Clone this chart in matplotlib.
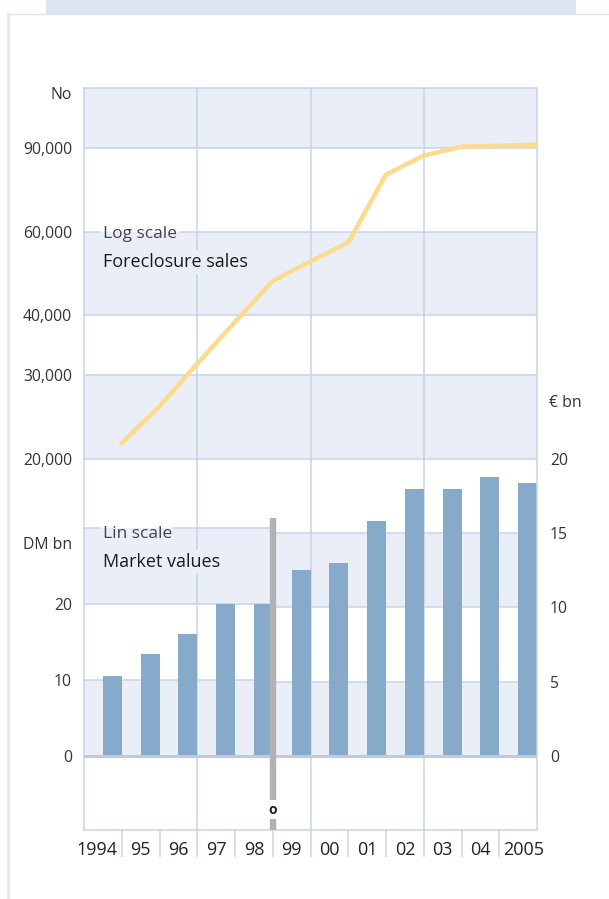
import numpy as np
import matplotlib.pyplot as plt
from matplotlib.transforms import blended_transform_factory
from matplotlib.patches import Rectangle
from matplotlib.lines import Line2D
from matplotlib.ticker import NullLocator

# data
years = ['1994', '95', '96', '97', '98', '99', '00', '01', '02', '03', '04', '2005']
# foreclosure sales, number of cases (log scale)
sales = [21600, 25800, 31700, 38800, 47300, 51900, 56900, 79000, 86600, 90400, 90800, 91300]
# market values: DM bn until 1998, € bn from 1999
values_dm = [10.5, 13.4, 16.1, 20.0, 20.0]
values_eur = [12.5, 13.0, 15.8, 18.0, 18.0, 18.8, 18.4]
DM_PER_EUR = 1.95583

log_levels = [20000, 30000, 40000, 60000, 90000, 120000]
dm_levels = [0, 10, 20, 30]
eur_levels = [0, 5, 10, 15, 20]

# colours
grid_c = '#c6d4e9'
band_c = '#eaeff7'
bar_c = '#88aaca'
line_c = '#fdda8c'
break_c = '#b2b2b6'
text_c = '#333333'

plt.rcParams['font.family'] = ['Open Sans', 'DejaVu Sans']

fig = plt.figure(figsize=(6.09, 8.99), dpi=100)

# page decoration
fig.add_artist(Line2D([8/609, 1], [1 - 14/899, 1 - 14/899], color='#dfe6f0', lw=1.0))
fig.add_artist(Line2D([8/609, 8/609], [0, 1 - 14/899], color='#dfe6f0', lw=1.8))
fig.add_artist(Rectangle((46/609, 1 - 15/899), 530/609, 15/899, color='#dce4ef', lw=0))

ax = fig.add_axes([84/609, 69/899, 453/609, 742/899])
ax.set_xlim(0, 12)
ax.set_ylim(-5, 45)

ax_dm = ax.twinx()
ax_dm.set_ylim(-5 * DM_PER_EUR, 45 * DM_PER_EUR)

ax_logbg = ax.twinx()
ax_logbg.set_yscale('log')
ax_logbg.set_ylim(20000 / 6, 20000 * 6)

ax_top = ax.twinx()
ax_top.set_ylim(-5, 45)

ax_line = ax.twinx()
ax_line.set_yscale('log')
ax_line.set_ylim(20000 / 6, 20000 * 6)

for i, a in enumerate([ax, ax_dm, ax_logbg, ax_top, ax_line]):
    a.set_zorder(i)
    a.patch.set_visible(False)
    for s in a.spines.values():
        s.set_visible(False)
ax.patch.set_visible(True)

split = 5 / 12  # DM -> € change between 1998 and 1999

# € bands (right, lower part)
for lo, hi in [(eur_levels[0], eur_levels[1]), (eur_levels[2], eur_levels[3])]:
    ax.axhspan(lo, hi, xmin=split, xmax=1, color=band_c, lw=0, zorder=1)
for v in eur_levels[1:4]:
    ax.axhline(v, xmin=split, xmax=1, color=grid_c, lw=1.1, zorder=2)

# DM bands (left, lower part)
for lo, hi in [(dm_levels[0], dm_levels[1]), (dm_levels[2], dm_levels[3])]:
    ax_dm.axhspan(lo, hi, xmin=0, xmax=split, color=band_c, lw=0, zorder=1)
for v in dm_levels[1:3]:
    ax_dm.axhline(v, xmin=0, xmax=split, color=grid_c, lw=1.1, zorder=2)
ax_dm.axhline(dm_levels[3], xmin=0, xmax=0.035, color=grid_c, lw=1.1, zorder=2)
ax_dm.axhline(dm_levels[3], xmin=0.196, xmax=split, color=grid_c, lw=1.1, zorder=2)

# log bands (upper part)
for k in (0, 2, 4):
    ax_logbg.axhspan(log_levels[k], log_levels[k + 1], color=band_c, lw=0, zorder=1)
for v in log_levels[:5]:
    if v == 60000:
        ax_logbg.axhline(v, xmin=0, xmax=0.035, color=grid_c, lw=1.1, zorder=2)
        ax_logbg.axhline(v, xmin=0.212, xmax=1, color=grid_c, lw=1.1, zorder=2)
    else:
        ax_logbg.axhline(v, color=grid_c, lw=1.1, zorder=2)

# vertical grid, bars, zero line
for xv in (3, 6, 9):
    ax_top.axvline(xv, color=grid_c, lw=1.1, zorder=1)

x = np.arange(len(years))
heights = [v / DM_PER_EUR for v in values_dm] + values_eur
ax_top.bar(x + 0.75, heights, width=0.5, color=bar_c, lw=0, zorder=2)
ax_top.axhline(0, color='#bccbe3', lw=2.2, zorder=3)

# currency break marker
ax_top.plot([5, 5], [16, -2.95], color=break_c, lw=4.6, solid_capstyle='butt', zorder=4)
ax_top.plot([5, 5], [-4.25, -5], color=break_c, lw=4.6, solid_capstyle='butt', zorder=4)
ax_top.text(5, -3.62, 'o', ha='center', va='center', fontsize=10, fontweight='bold',
            color='#222222', zorder=5)

# frame
for s in ax_top.spines.values():
    s.set_visible(True)
    s.set_color(grid_c)
    s.set_linewidth(1.1)

# foreclosure line
ax_line.plot(x + 1, sales, color=line_c, lw=3.2, solid_joinstyle='miter', zorder=3)
ax_line.yaxis.set_visible(False)
ax_line.yaxis.set_minor_locator(NullLocator())

# ticks
ax.set_yticks([])
ax.set_xticks(range(1, 12))
ax.tick_params(axis='x', length=19.5, width=1.1, color=grid_c, direction='out',
               labelbottom=False)

ax_dm.yaxis.tick_left()
ax_dm.set_yticks(dm_levels[:3])
ax_dm.set_yticklabels([str(v) for v in dm_levels[:3]])
ax_dm.tick_params(axis='y', length=0, pad=8.6, labelsize=11.3, labelcolor=text_c)

ax_logbg.yaxis.tick_left()
ax_logbg.set_yticks(log_levels[:5])
ax_logbg.set_yticklabels([f'{v:,}' for v in log_levels[:5]])
ax_logbg.yaxis.set_minor_locator(NullLocator())
ax_logbg.tick_params(axis='y', which='both', length=0, pad=8.6, labelsize=11.3,
                     labelcolor=text_c)

ax_top.set_yticks(eur_levels)
ax_top.set_yticklabels([str(v) for v in eur_levels])
ax_top.tick_params(axis='y', length=0, pad=9.4, labelsize=11.3, labelcolor=text_c)

# year labels
tr = blended_transform_factory(ax.transData, ax.transAxes)
for i, yr in enumerate(years):
    if i == 0:
        xp, ha = 0.9, 'right'
    elif i == len(years) - 1:
        xp, ha = 11.1, 'left'
    else:
        xp, ha = i + 0.5, 'center'
    ax.text(xp, -0.027, yr, transform=tr, ha=ha, va='center', fontsize=13,
            color='#222222', clip_on=False)

# unit labels
ax_top.text(-0.0265, 0.9906, 'No', transform=ax_top.transAxes, ha='right', va='center',
            fontsize=11.3, color=text_c)
tl = blended_transform_factory(ax_top.transAxes, ax_top.transData)
ax_top.text(-0.0265, 14.2, 'DM bn', transform=tl, ha='right', va='center',
            fontsize=11.3, color=text_c)
ax_top.text(1.0265, 23.8, '€ bn', transform=tl, ha='left', va='center',
            fontsize=11.3, color=text_c)

# series captions
box = dict(boxstyle='square,pad=0.15', fc=band_c, ec='none')
ax_top.text(0.5, 34.9, 'Log scale', ha='left', va='baseline', fontsize=12.5, color='#444444',
            zorder=6)
ax_top.text(0.5, 32.95, 'Foreclosure sales', ha='left', va='baseline', fontsize=13,
            color='#1a1a1a', bbox=box, zorder=6)
ax_top.text(0.5, 14.7, 'Lin scale', ha='left', va='baseline', fontsize=12.5, color='#444444',
            zorder=6)
ax_top.text(0.5, 12.74, 'Market values', ha='left', va='baseline', fontsize=13,
            color='#1a1a1a', bbox=box, zorder=6)

fig.savefig('out.png', dpi=100)
